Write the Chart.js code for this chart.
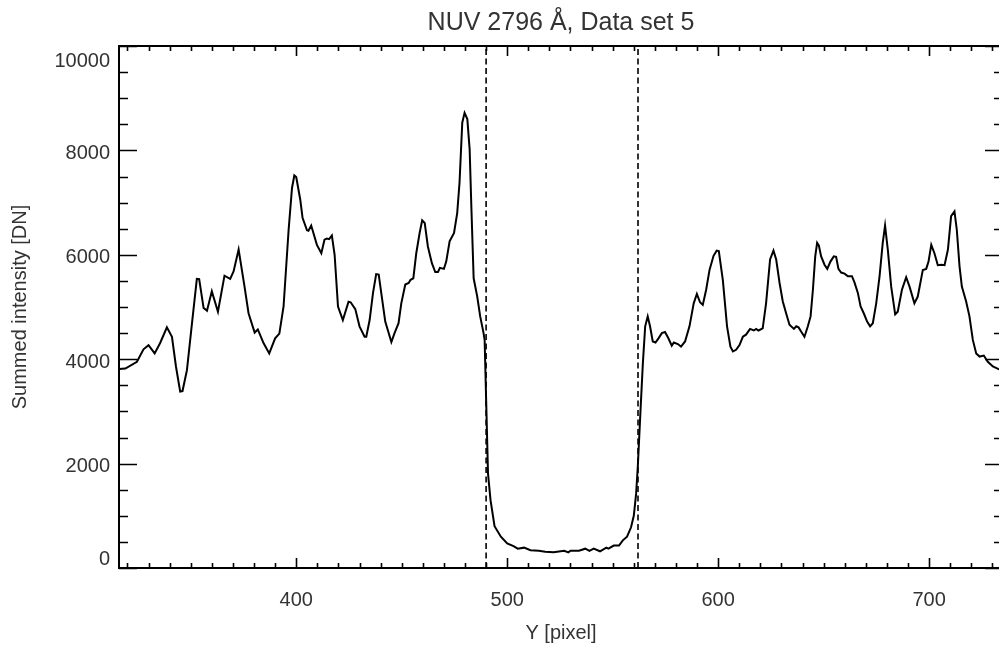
<!DOCTYPE html>
<html>
<head>
<meta charset="utf-8">
<title>NUV 2796 Å, Data set 5</title>
<script src="https://cdn.jsdelivr.net/npm/chart.js@4/dist/chart.umd.min.js"></script>
<style>
  html, body { margin: 0; padding: 0; background: #fff; overflow: hidden; }
  #wrap { width: 999px; height: 645px; overflow: hidden; }
</style>
</head>
<body>
<div id="wrap"><canvas id="chart" width="1010" height="645"></canvas></div>
<script>
// ---------------- DATA ----------------
const pixelPos = [
  316, 319, 324.5, 327.6, 330, 332.9, 335.5, 338.7, 341.1, 343, 345, 346.1, 348.2, 350.6, 352.9, 354,
  356.1, 357.7, 360, 362.9, 366, 368.7, 370.3, 372.7, 375.5, 377.4, 380.3, 381.8, 384.5, 387.2, 390, 392,
  394, 396.4, 398, 399.1, 400, 401.9, 403, 405.1, 405.8, 407.1, 409.8, 411.9, 413.4, 414.5, 415.6, 416.9,
  418.2, 419.8, 422.1, 424.8, 425.8, 428, 430, 432.4, 433.2, 434.8, 436.4, 437.9, 439.1, 440.3, 442.2, 445.1,
  446.6, 448.5, 449.8, 451.7, 453.3, 454.2, 455.5, 456.9, 458.5, 459.7, 460.9, 462.4, 464.3, 465.9, 467.2, 468.1,
  470, 471.1, 472.7, 474.8, 476.3, 477.4, 478.7, 479.8, 481.1, 482.2, 483, 484.1, 485.8, 487.2, 488.8, 489.3,
  490.1, 490.9, 492.1, 494, 497, 500, 503, 505, 508, 511, 515, 518, 522, 527, 529, 530,
  534, 537, 539, 541, 544, 547, 548, 550.5, 553, 554.8, 556.8, 558.7, 560, 561.1, 561.9, 563.2,
  564.3, 565.4, 566.6, 567.7, 569, 570.3, 571.7, 573.3, 574.8, 576.4, 578, 579, 580.9, 582.4, 584.3, 586.4,
  588.4, 589.9, 591.4, 592.7, 594.3, 595.9, 597.8, 599.3, 600.3, 602.2, 604.2, 605.8, 607, 608.5, 610.1, 611.7,
  613.2, 615.1, 616.9, 618, 619.1, 621.1, 622.7, 624.6, 626.2, 627.5, 629.1, 630.6, 632.2, 633.8, 635.9, 637,
  638.1, 639.3, 640.9, 642.5, 643.8, 644.9, 646, 646.9, 647.7, 648.8, 650.4, 651.7, 653.2, 654.8, 655.9, 657,
  658.3, 659.9, 661.5, 663.4, 664.6, 666.2, 667.5, 669, 670.6, 672, 673.3, 674.9, 676.5, 678, 679.1, 680.4,
  682, 683.9, 685.1, 687.1, 689.1, 690.7, 693, 694.6, 697, 698.6, 699.7, 701, 702.5, 704.1, 705.7, 707.3,
  708.9, 710.4, 712, 713.1, 714.4, 715.5, 717.5, 719.1, 720.7, 722.3, 723.9, 725.9, 727.8, 730.2, 732.9, 735
];
const intensity = [
  3810, 3820, 3950, 4190, 4270, 4110, 4310, 4610, 4430, 3860, 3380, 3390, 3790, 4690, 5540, 5535,
  4980, 4930, 5300, 4910, 5600, 5540, 5680, 6100, 5390, 4880, 4510, 4570, 4310, 4110, 4400, 4490,
  5010, 6480, 7280, 7520, 7490, 7060, 6710, 6470, 6460, 6560, 6190, 6030, 6290, 6310, 6300, 6370,
  6000, 5010, 4750, 5100, 5090, 4960, 4630, 4430, 4430, 4750, 5270, 5630, 5620, 5270, 4720, 4330,
  4500, 4690, 5070, 5430, 5460, 5520, 5550, 6030, 6420, 6660, 6610, 6160, 5840, 5670, 5670, 5750,
  5730, 5870, 6260, 6420, 6800, 7380, 8530, 8720, 8600, 8020, 6930, 5550, 5200, 4820, 4500, 4370,
  3090, 1810, 1300, 800, 600, 470, 420, 370, 390, 340, 330, 310, 300, 330, 300, 330,
  330, 370, 330, 370, 320, 390, 370, 430, 430, 530, 600, 780, 1000, 1420, 1940, 3030,
  3920, 4630, 4820, 4630, 4340, 4320, 4400, 4500, 4520, 4400, 4260, 4320, 4290, 4240, 4340, 4630,
  5070, 5250, 5090, 5040, 5330, 5710, 5980, 6080, 6070, 5520, 4630, 4240, 4150, 4180, 4270, 4430,
  4470, 4580, 4550, 4580, 4550, 4590, 5070, 5910, 6080, 5910, 5460, 5110, 4880, 4660, 4580, 4630,
  4610, 4530, 4430, 4630, 4820, 5330, 5970, 6230, 6180, 5970, 5810, 5730, 5870, 5970, 5960, 5730,
  5660, 5640, 5590, 5590, 5470, 5270, 5010, 4880, 4720, 4630, 4690, 5070, 5590, 6230, 6560, 6100,
  5390, 4860, 4910, 5330, 5570, 5390, 5070, 5200, 5710, 5730, 5870, 6190, 6030, 5800, 5810, 5800,
  6100, 6740, 6830, 6480, 5780, 5390, 5110, 4820, 4370, 4110, 4050, 4070, 3950, 3860, 3810, 3790
];
const cutLines = [490, 562];           // dashed vertical markers
const xRange = [316, 735];
const yRange = [0, 10000];
const xMajor = [400, 500, 600, 700];
const yMajor = [0, 2000, 4000, 6000, 8000, 10000];
const xMinorStep = 10;
const yMinorStep = 500;

const FONT = '"Liberation Sans", Arial, Helvetica, sans-serif';
const TEXT = '#333';

// ---------------- IDL-STYLE FRAME ----------------
// box on all four sides with inward ticks
const frameTicks = {
  id: 'frameTicks',
  afterDatasetsDraw(chart) {
    const { ctx, chartArea: a, scales: { x, y } } = chart;
    ctx.save();
    ctx.strokeStyle = '#000';
    ctx.lineWidth = 2;
    ctx.strokeRect(a.left, a.top, a.right - a.left, a.bottom - a.top);
    ctx.lineWidth = 1.6;
    ctx.beginPath();
    for (let v = Math.ceil(xRange[0] / xMinorStep) * xMinorStep; v <= xRange[1]; v += xMinorStep) {
      const px = Math.round(x.getPixelForValue(v)) + 0.5;
      const len = xMajor.includes(v) ? 10 : 5;
      ctx.moveTo(px, a.bottom); ctx.lineTo(px, a.bottom - len);
      ctx.moveTo(px, a.top); ctx.lineTo(px, a.top + len);
    }
    for (let v = yRange[0]; v <= yRange[1]; v += yMinorStep) {
      const py = Math.round(y.getPixelForValue(v)) + 0.5;
      const len = yMajor.includes(v) ? 18 : 9;
      ctx.moveTo(a.left, py); ctx.lineTo(a.left + len, py);
      ctx.moveTo(a.right, py); ctx.lineTo(a.right - len, py);
    }
    ctx.stroke();
    ctx.restore();
  },
};

// IDL keeps the end labels inside the axis range: nudge them with an empty line
const yLabel = (v) => {
  const s = String(v);
  if (v === yRange[1]) return ['', s];
  if (v === yRange[0]) return [s, ''];
  return s;
};

// ---------------- CHART ----------------
const curve = pixelPos.map((p, i) => ({ x: p, y: intensity[i] }));
const markerSets = cutLines.map((c) => ({
  data: [{ x: c, y: yRange[0] }, { x: c, y: yRange[1] }],
  showLine: true,
  borderColor: '#000',
  borderWidth: 1.6,
  borderDash: [6, 3.5],
  pointRadius: 0,
}));

new Chart(document.getElementById('chart'), {
  type: 'scatter',
  data: {
    datasets: [
      {
        data: curve,
        showLine: true,
        borderColor: '#000',
        borderWidth: 2,
        pointRadius: 0,
        tension: 0,
      },
      ...markerSets,
    ],
  },
  options: {
    responsive: false,
    animation: false,
    devicePixelRatio: 1,
    layout: { padding: { left: 0, right: 7, top: 0, bottom: 0 } },
    plugins: {
      legend: { display: false },
      tooltip: { enabled: false },
      title: {
        display: true,
        fullSize: false,
        text: 'NUV 2796 Å, Data set 5',
        color: TEXT,
        font: { family: FONT, size: 25, weight: 'normal' },
        padding: { top: 8, bottom: 8 },
      },
    },
    scales: {
      x: {
        type: 'linear',
        min: xRange[0],
        max: xRange[1],
        grid: { display: false, drawTicks: false },
        border: { display: false },
        afterBuildTicks: (s) => { s.ticks = xMajor.map((v) => ({ value: v })); },
        afterFit: (s) => { s.height = 77; },
        ticks: {
          color: TEXT,
          font: { family: FONT, size: 20 },
          padding: 20,
          maxRotation: 0,
          callback: (v) => String(v),
        },
        title: {
          display: true,
          text: 'Y [pixel]',
          color: TEXT,
          font: { family: FONT, size: 20 },
          padding: { top: 0, bottom: 0 },
        },
      },
      y: {
        type: 'linear',
        min: yRange[0],
        max: yRange[1],
        grid: { display: false, drawTicks: false },
        border: { display: false },
        afterBuildTicks: (s) => { s.ticks = yMajor.map((v) => ({ value: v })); },
        afterFit: (s) => { s.width = 119; },
        ticks: {
          color: TEXT,
          font: { family: FONT, size: 20 },
          padding: 9,
          labelOffset: 3,
          callback: yLabel,
        },
        title: {
          display: true,
          text: 'Summed intensity [DN]',
          color: TEXT,
          font: { family: FONT, size: 20 },
          padding: { top: 8, bottom: 0 },
        },
      },
    },
  },
  plugins: [frameTicks],
});
</script>
</body>
</html>
